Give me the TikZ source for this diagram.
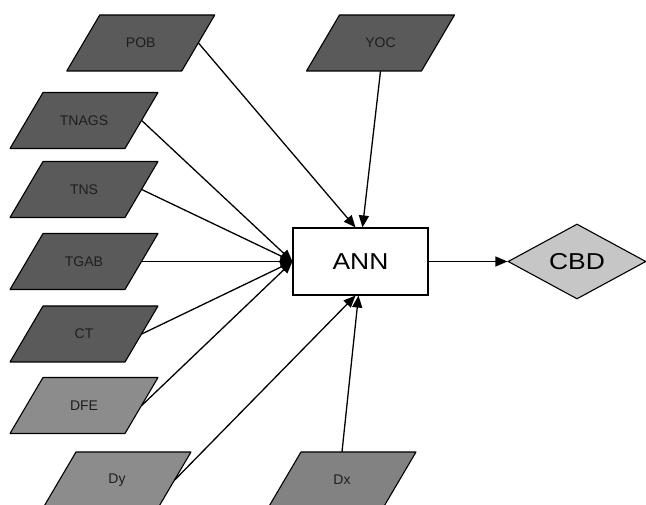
\documentclass[tikz,border=0pt]{standalone}
\usepackage{fontspec}
\setmainfont{Liberation Sans}
\usetikzlibrary{arrows.meta,shapes.geometric,calc}
\definecolor{darkbox}{HTML}{5A5A5A}
\definecolor{midbox}{HTML}{8C8C8C}
\definecolor{dxbox}{HTML}{828282}
\definecolor{cbdfill}{HTML}{C6C6C6}
\definecolor{labelc}{HTML}{1E1E1E}
\newcommand\paraBox[5]{% name, x, y, label, fill
  \draw[parashape,fill=#5] (#2,#3) ++(-41,28) -- ++(115,0) -- ++(-33,-56) -- ++(-115,0) -- cycle;
  \node[paratext] (#1) at (#2,#3) {#4};
}
\begin{document}
\begin{tikzpicture}[x=1pt,y=1pt,
  parashape/.style={draw=black,line width=1.1pt,line join=round},
  paratext/.style={minimum width=115pt,minimum height=56pt,inner sep=0pt,text=labelc,font=\fontsize{14}{16}\selectfont},
  bigtext/.style={font=\fontsize{23}{26}\selectfont,text=black},
  conn/.style={line width=1.3pt,-{Triangle[length=12pt,width=10pt]}}
]
\useasboundingbox (0,0) rectangle (646,504);
% y_up = 504 - y_px
\paraBox{pob}{140.75}{461}{POB}{darkbox}
\paraBox{tnags}{84}{383.5}{TNAGS}{darkbox}
\paraBox{tns}{84}{314.5}{TNS}{darkbox}
\paraBox{tgab}{84}{242.5}{TGAB}{darkbox}
\paraBox{ct}{84}{170}{CT}{darkbox}
\paraBox{dfe}{84}{98.5}{DFE}{midbox}
\paraBox{dy}{117}{24}{Dy}{midbox}
\paraBox{yoc}{380.5}{461}{YOC}{darkbox}
\paraBox{dx}{342}{24}{Dx}{dxbox}

\node[draw=black,line width=1.1pt,fill=white,minimum width=135pt,minimum height=67pt,inner sep=0pt,bigtext] (ann) at (360.5,242.5) {\scalebox{1.15}[1]{ANN}};
\node[diamond,draw=black,line width=1.1pt,fill=cbdfill,minimum width=138pt,minimum height=75pt,inner sep=0pt,aspect=1.84,bigtext] (cbd) at (577,242.5) {\scalebox{1.15}[1]{CBD}};

\draw[conn] (pob.east) -- ($(ann.north)+(-5,0)$);
\draw[conn] (yoc.south) -- ($(ann.north)+(2,0)$);
\draw[conn] (tnags.east) -- (ann.west);
\draw[conn] (tns.east) -- (ann.west);
\draw[conn] (tgab.east) -- (ann.west);
\draw[conn] (ct.east) -- (ann.west);
\draw[conn] (dfe.east) -- (ann.west);
\draw[conn] (dy.east) -- ($(ann.south)+(-5,0)$);
\draw[conn] (dx.north) -- ($(ann.south)+(-2,0)$);
\draw[conn] (ann.east) -- (cbd.west);
\end{tikzpicture}
\end{document}
